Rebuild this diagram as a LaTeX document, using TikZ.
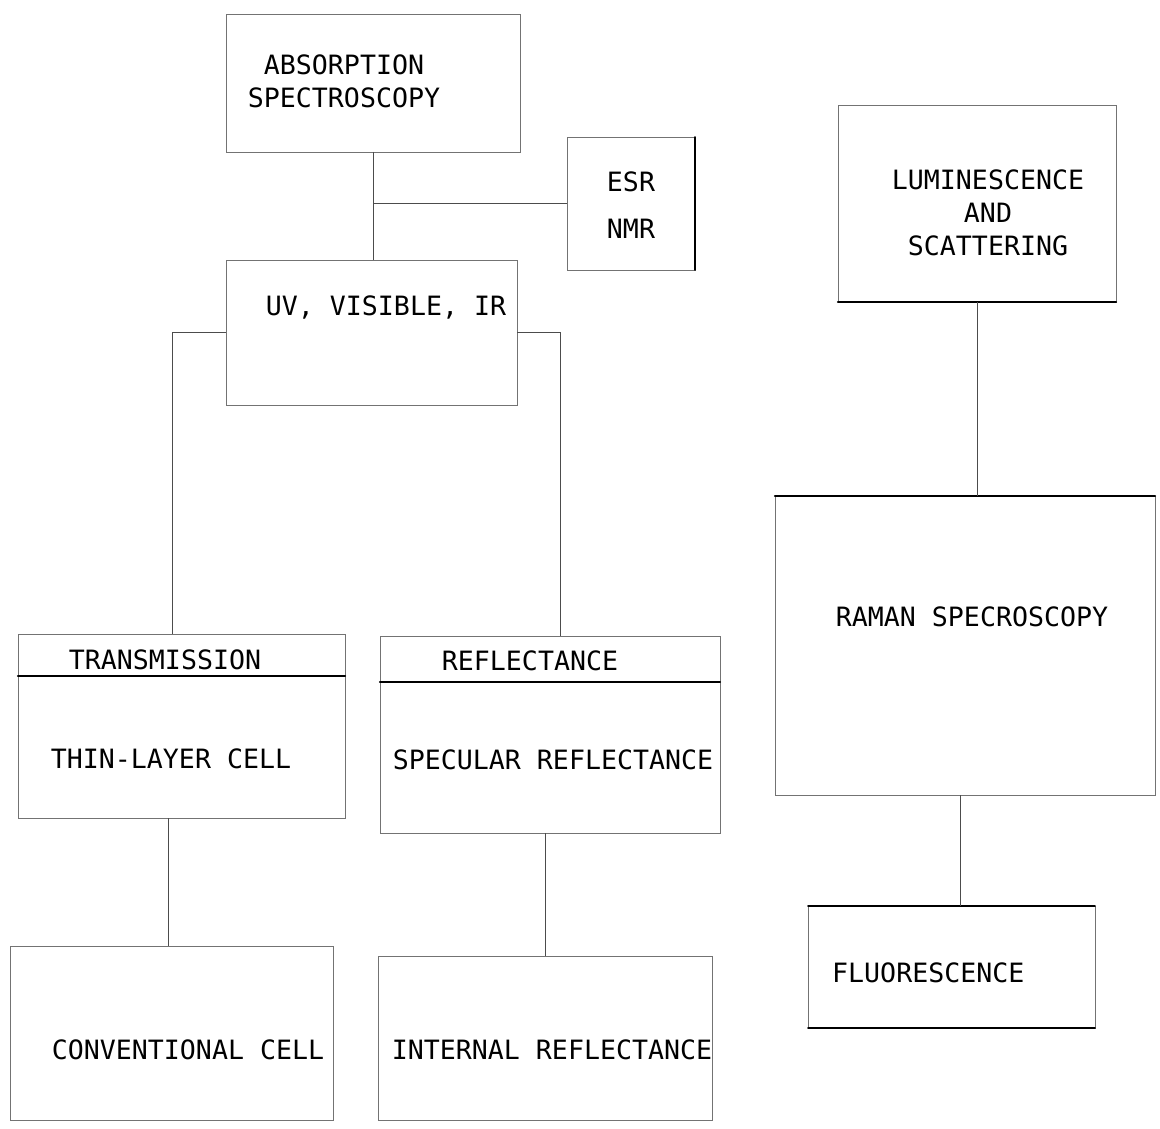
\documentclass[tikz,border=0pt]{standalone}
\usepackage{fontspec}
\setmonofont{DejaVu Sans Mono}
\usetikzlibrary{positioning}

\tikzset{
  box/.style={draw=black!55, line width=0.8pt, inner sep=0pt, outer sep=0pt},
  txt/.style={inner sep=0pt, align=center, font=\ttfamily\fontsize{26.6}{33}\selectfont},
  link/.style={draw=black!70, line width=0.8pt},
  heavy/.style={line width=2.4pt, line cap=round},
}

\begin{document}
\begin{tikzpicture}[x=1pt,y=-1pt]
        \useasboundingbox (0,0) rectangle (1160,1129);
        % boxes
        \node[box, minimum width=294, minimum height=138] (abs) at (373,83) {};
        \node[box, minimum width=128, minimum height=133] (esr) at (631,203.5) {};
        \node[box, minimum width=291, minimum height=145] (uv) at (371.5,332.5) {};
        \node[box, minimum width=278, minimum height=197] (lum) at (977,203.5) {};
        \node[box, minimum width=327, minimum height=184] (trans) at (181.5,726) {};
        \node[box, minimum width=340, minimum height=197] (refl) at (550,734.5) {};
        \node[box, minimum width=323, minimum height=174] (conv) at (171.5,1033) {};
        \node[box, minimum width=334, minimum height=164] (int) at (545,1038) {};
        \node[box, minimum width=380, minimum height=299] (raman) at (965,645.5) {};
        \node[box, minimum width=287, minimum height=122] (fluor) at (951.5,967) {};
        % texts
        \node[txt] (absT) at (344,81) {ABSORPTION\\SPECTROSCOPY};
        \node[txt] (esrT) at (631,205) {ESR\\[14pt]NMR};
        \node[txt] (uvT) at (386,307) {UV, VISIBLE, IR};
        \node[txt] (lumT) at (988,213) {LUMINESCENCE\\AND\\SCATTERING};
        \node[txt] (transT) at (165,660) {TRANSMISSION};
        \node[txt] (thinT) at (171,759) {THIN-LAYER CELL};
        \node[txt] (reflT) at (530,661) {REFLECTANCE};
        \node[txt] (specT) at (553,760) {SPECULAR REFLECTANCE};
        \node[txt] (convT) at (188,1050) {CONVENTIONAL CELL};
        \node[txt] (intT) at (552,1050) {INTERNAL REFLECTANCE};
        \node[txt] (ramanT) at (972,617) {RAMAN SPECROSCOPY};
        \node[txt, anchor=west] (fluorT) at (832,973) {FLUORESCENCE};
        % heavy edges
        \draw[heavy] ([yshift=-42pt]trans.north west) -- ([yshift=-42pt]trans.north east);
        \draw[heavy] ([yshift=-46pt]refl.north west) -- ([yshift=-46pt]refl.north east);
        \draw[heavy] (lum.south west) -- (lum.south east);
        \draw[heavy] (raman.north west) -- (raman.north east);
        \draw[heavy, line width=1.6pt] (fluor.north west) -- (fluor.north east);
        \draw[heavy, line width=1.6pt] (fluor.south west) -- (fluor.south east);
        \draw[heavy, line width=1.6pt] (esr.north east) -- (esr.south east);
        % connectors
        \coordinate (lc) at (172,0);
        \coordinate (rc) at (560,0);
        \coordinate (tc) at (168,0);
        \coordinate (sc) at (545,0);
        \coordinate (fc) at (960,0);
        \draw[link] (abs.south) -- (abs.south |- uv.north);
        \draw[link] (esr.west) -- (esr.west -| abs.south);
        \draw[link] (uv.west) -| (lc |- trans.north);
        \draw[link] (uv.east) -| (rc |- refl.north);
        \draw[link] (tc |- trans.south) -- (tc |- conv.north);
        \draw[link] (sc |- refl.south) -- (sc |- int.north);
        \draw[link] (lum.south) -- (lum.south |- raman.north);
        \draw[link] (fc |- raman.south) -- (fc |- fluor.north);
    \end{tikzpicture}
\end{document}
